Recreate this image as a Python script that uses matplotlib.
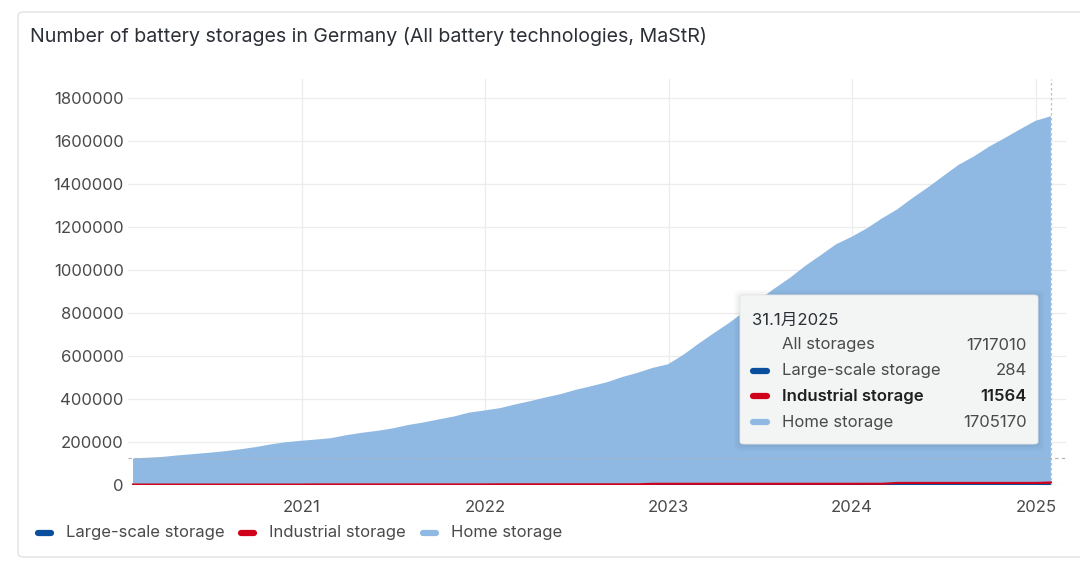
import numpy as np
import pandas as pd
import matplotlib.pyplot as plt
from matplotlib.patches import FancyBboxPatch
from matplotlib.lines import Line2D

plt.rcParams['font.family'] = ['Inter', 'Noto Sans CJK SC', 'DejaVu Sans']

# monthly values, end of month, Jan 2020 .. Jan 2025
months = pd.date_range("2020-01-31", periods=61, freq="ME")
total = [124, 127, 131, 138, 144, 150, 157, 166, 176, 189, 199, 206,
         212, 218, 232, 243, 252, 263, 279, 291, 305, 319, 337, 347,
         358, 374, 390, 407, 423, 443, 460, 478, 502, 522, 545, 562,
         607, 655, 705, 752, 805, 862, 915, 965, 1020, 1070, 1120, 1155,
         1195, 1240, 1283, 1335, 1385, 1437, 1490, 1530, 1575, 1615, 1655, 1695,
         1717.010]
industrial = [2.0]*12 + [2.5]*12 + [3.0]*10 + [5.5]*16 + [9.5]*10 + [11.564]
large = [0.08]*24 + [0.15]*24 + [0.25]*12 + [0.284]
total = np.array(total) * 1000
industrial = np.array(industrial) * 1000
large = np.array(large) * 1000
home = total - industrial - large

series_names = ["Large-scale storage", "Industrial storage", "Home storage"]
series_colors = ["#0a4f9e", "#d0021b", "#8fb9e3"]
tooltip_date = "31.1月2025"
tooltip_values = ["1717010", "284", "11564", "1705170"]
year_ticks = ["2021", "2022", "2023", "2024", "2025"]
y_ticks = np.arange(0, 1800001, 200000)

fig = plt.figure(figsize=(10.8, 5.7), dpi=100)

# card frame
card = FancyBboxPatch((18/1080, 13/570), 1100/1080, 545/570, boxstyle="round,pad=0,rounding_size=0.006",
                      transform=fig.transFigure, facecolor="white", edgecolor="#e2e2e2", lw=1, zorder=-5)
fig.patches.append(card)

fig.text(30/1080, 1 - 36/570, "Number of battery storages in Germany (All battery technologies, MaStR)",
         fontsize=14.1, color="#2b2f36", va="center", ha="left")

ax = fig.add_axes([128/1080, 1 - 485/570, (1066 - 128)/1080, (485 - 79)/570])
ax.set_facecolor("none")
ax.stackplot(months, large, industrial, home, colors=series_colors, lw=0)
ax.plot(months, large, color=series_colors[0], lw=1.5)
ax.plot(months, large + industrial, color=series_colors[1], lw=1.5)

ax.set_xlim(pd.Timestamp("2020-01-21"), pd.Timestamp("2025-03-02"))
ax.set_ylim(0, 1890000)
ax.set_yticks(y_ticks)
ax.set_yticklabels([str(v) for v in y_ticks])
ax.set_xticks([pd.Timestamp(y + "-01-01") for y in year_ticks])
ax.set_xticklabels(year_ticks)
ax.tick_params(axis="both", length=0, labelsize=12, labelcolor="#4a4a4a")
ax.tick_params(axis="y", pad=3)
ax.tick_params(axis="x", pad=11)
ax.grid(True, color="#ececec", lw=0.9)
ax.set_axisbelow(True)
for s in ax.spines.values():
    s.set_visible(False)

# crosshair
ax.axvline(months[-1], color="#c0c0c0", lw=0.9, ls=(0, (2, 2)))
ax.axhline(total[0], color="#a8b2bd", lw=0.8, ls=(0, (3, 3)))

# tooltip with soft shadow
for k, a in [(6, 0.02), (4, 0.025), (2, 0.03)]:
    sh = FancyBboxPatch(((740 - k)/1080, 1 - (444 + k + 1)/570), (298 + 2*k)/1080, (149 + 2*k)/570,
                        boxstyle="round,pad=0,rounding_size=0.008", transform=fig.transFigure,
                        facecolor="black", edgecolor="none", alpha=a, zorder=4)
    fig.patches.append(sh)
tip = FancyBboxPatch((740/1080, 1 - 444/570), 298/1080, 149/570, boxstyle="round,pad=0,rounding_size=0.004",
                     transform=fig.transFigure, facecolor="#f3f4f4", edgecolor="#e6e6e6", lw=0.6, zorder=5)
fig.patches.append(tip)
fig.text(752/1080, 1 - 320/570, tooltip_date, fontsize=12, color="#2b2f36", va="center", zorder=6)
row_labels = ["All storages"] + series_names
row_colors = [None] + series_colors
for i, (lab, col, val) in enumerate(zip(row_labels, row_colors, tooltip_values)):
    yy = 1 - (345 + i * 25.7) / 570
    w = "semibold" if lab == "Industrial storage" else "normal"
    c = "#1f1f1f" if w == "semibold" else "#4a4a4a"
    if col:
        fig.add_artist(Line2D([753/1080, 767/1080], [yy, yy], color=col, lw=4.5,
                              solid_capstyle="round", transform=fig.transFigure, zorder=6))
    fig.text(782/1080, yy, lab, fontsize=12, color=c, va="center", fontweight=w, zorder=6)
    fig.text(1027/1080, yy, val, fontsize=12, color=c, va="center", ha="right", fontweight=w, zorder=6)

# legend
lx = [36, 239, 421]
for x0, name, col in zip(lx, series_names, series_colors):
    yy = 1 - 533/570
    fig.add_artist(Line2D([(x0 + 2)/1080, (x0 + 15)/1080], [yy, yy], color=col, lw=4.5,
                          solid_capstyle="round", transform=fig.transFigure))
    fig.text((x0 + 30)/1080, yy, name, fontsize=12, color="#4a4a4a", va="center")

fig.savefig("out.png", dpi=100)
